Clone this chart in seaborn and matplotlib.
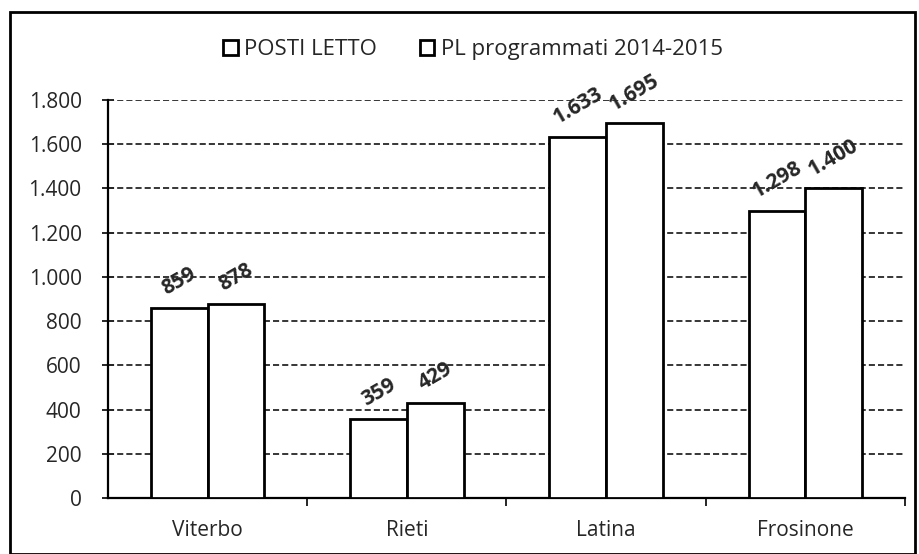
import pandas as pd
import matplotlib.pyplot as plt
import matplotlib.ticker as mticker
from matplotlib.patches import Rectangle
import seaborn as sns

provinces = ["Viterbo", "Rieti", "Latina", "Frosinone"]
posti_letto = [859, 359, 1633, 1298]
pl_programmati = [878, 429, 1695, 1400]
series_names = ["POSTI LETTO", "PL programmati 2014-2015"]


def it_fmt(v):
    return f"{int(v):,}".replace(",", ".")


df = pd.DataFrame({
    "provincia": provinces * 2,
    "valore": posti_letto + pl_programmati,
    "serie": [series_names[0]] * 4 + [series_names[1]] * 4,
})

sns.set_style("white")
plt.rcParams['font.family'] = ['Open Sans', 'DejaVu Sans']

fig = plt.figure(figsize=(9.2, 5.54), dpi=100)
ax = fig.add_axes([108 / 920, 1 - 498 / 554, 797 / 920, 398 / 554])

sns.barplot(data=df, x="provincia", y="valore", hue="serie", ax=ax,
            palette=["white", "white"], edgecolor="black", linewidth=2,
            width=0.57, gap=0, saturation=1, zorder=3)

ax.set_ylim(0, 1800)
ax.set_xlim(-0.5, 3.5)
ax.yaxis.set_major_locator(mticker.MultipleLocator(200))
ax.yaxis.set_major_formatter(mticker.FuncFormatter(lambda v, p: it_fmt(v)))
ax.grid(axis="y", color="black", linestyle=(0, (4, 2)), linewidth=1.1, zorder=0)
ax.set_axisbelow(True)
ax.set_xlabel("")
ax.set_ylabel("")
for s in ["top", "right"]:
    ax.spines[s].set_visible(False)
ax.spines["left"].set_linewidth(1.6)
ax.spines["bottom"].set_linewidth(1.6)
ax.spines["left"].set_color("black")
ax.spines["bottom"].set_color("black")
ax.tick_params(axis="y", direction="inout", length=8, width=1.4, labelsize=15, pad=15, left=True)
ax.tick_params(axis="x", bottom=False, labelsize=15, pad=12)
ax.set_xticks(range(4))
ax.set_xticklabels(provinces)
ax.set_xticks([0.5, 1.5, 2.5, 3.5], minor=True)
ax.tick_params(axis="x", which="minor", direction="out", length=6, width=1.4, bottom=True)

for cont in ax.containers:
    for bar in cont:
        h = bar.get_height()
        ax.annotate(it_fmt(h), (bar.get_x() + bar.get_width() / 2, h),
                    xytext=(0, 6), textcoords="offset points",
                    ha="center", va="bottom", rotation=30,
                    fontsize=15, fontweight="bold", zorder=5)

handles, labels = ax.get_legend_handles_labels()
ax.legend(handles, labels, loc="center", bbox_to_anchor=(0.458, 1.126), ncol=2,
          frameon=False, fontsize=16, handlelength=0.65, handleheight=0.65,
          handletextpad=0.3, columnspacing=1.9)

fig.patches.append(Rectangle((10 / 920, 0.0), 905 / 920, 1 - 12 / 554,
                             transform=fig.transFigure, fill=False,
                             edgecolor="black", linewidth=2))

fig.savefig("out.png", dpi=100)
